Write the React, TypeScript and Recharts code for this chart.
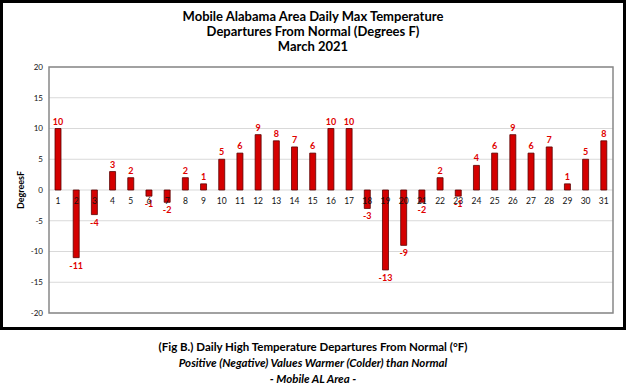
import { BarChart, Bar, XAxis, YAxis, CartesianGrid, ReferenceArea, LabelList } from "recharts";

const days = [
  "1", "2", "3", "4", "5", "6", "7", "8", "9", "10", "11", "12", "13", "14", "15", "16",
  "17", "18", "19", "20", "21", "22", "23", "24", "25", "26", "27", "28", "29", "30", "31",
];
const departures = [
  10, -11, -4, 3, 2, -1, -2, 2, 1, 5, 6, 9, 8, 7, 6, 10,
  10, -3, -13, -9, -2, 2, -1, 4, 6, 9, 6, 7, 1, 5, 8,
];
const yTicks = [-20, -15, -10, -5, 0, 5, 10, 15, 20];

const titleLines = [
  "Mobile Alabama Area Daily Max Temperature",
  "Departures From Normal (Degrees F)",
  "March 2021",
];

const data = days.map((d, i) => ({ day: d, temp: departures[i] }));

const FONT = "Lato, 'Liberation Sans', sans-serif";

const ValueLabel = (props: any) => {
  const x = Number(props.x);
  const y = Number(props.y);
  const w = Number(props.width);
  const h = Number(props.height);
  const v = Number(props.value);
  const top = Math.min(y, y + h);
  const bottom = Math.max(y, y + h);
  const ty = v >= 0 ? top - 4 : bottom + 11;
  return (
    <text x={x + w / 2} y={ty} textAnchor="middle" fill="#e00000" fontSize={9} fontWeight="bold" fontFamily={FONT}>
      {v}
    </text>
  );
};

const DayLabel = (props: any) => {
  const x = Number(props.x);
  const y = Number(props.y);
  const w = Number(props.width);
  const h = Number(props.height);
  const v = departures[props.index];
  const base = v >= 0 ? Math.max(y, y + h) : Math.min(y, y + h);
  return (
    <text x={x + w / 2} y={base + 14} textAnchor="middle" fill="#111" fontSize={8.5} fontFamily={FONT}>
      {props.value}
    </text>
  );
};

export default function App() {
  return (
    <div style={{ position: "relative", width: 626, height: 392, background: "#fff", fontFamily: FONT }}>
      <style>{"body{margin:0}"}</style>
      <div
        style={{
          position: "absolute",
          left: 0,
          top: 0,
          width: 626,
          height: 330,
          border: "3px solid #000",
          boxSizing: "border-box",
        }}
      />
      <div style={{ position: "absolute", left: 0, top: 9, width: 626, textAlign: "center" }}>
        {titleLines.map((t) => (
          <div key={t} style={{ fontSize: 13, fontWeight: "bold", lineHeight: "15px", color: "#000" }}>
            {t}
          </div>
        ))}
      </div>
      <div
        style={{
          position: "absolute",
          left: 20,
          top: 190,
          transform: "translate(-50%, -50%) rotate(-90deg)",
          fontSize: 9,
          fontWeight: "bold",
          whiteSpace: "nowrap",
        }}
      >
        DegreesF
      </div>
      <div style={{ position: "absolute", left: 0, top: 0 }}>
        <BarChart width={626} height={330} data={data} margin={{ top: 67, right: 13, bottom: 17, left: 27 }}>
          <CartesianGrid vertical={false} stroke="#d9d9d9" />
          <XAxis dataKey="day" hide />
          <YAxis
            domain={[-20, 20]}
            ticks={yTicks}
            width={22}
            axisLine={false}
            tickLine={false}
            tickSize={0}
            tickMargin={6}
            tick={{ fontSize: 8, fill: "#111", fontFamily: FONT }}
            interval={0}
          />
          <ReferenceArea y1={-20} y2={20} fill="none" stroke="#888" strokeWidth={1.5} />
          <Bar dataKey="temp" barSize={6} fill="#d40000" stroke="#5a0000" strokeWidth={0.8} isAnimationActive={false}>
            <LabelList dataKey="temp" content={ValueLabel} />
            <LabelList dataKey="day" content={DayLabel} />
          </Bar>
        </BarChart>
      </div>
      <div style={{ position: "absolute", left: 0, top: 339, width: 626, textAlign: "center", fontSize: 11.5, color: "#000" }}>
        <div style={{ fontWeight: "bold", lineHeight: "16px" }}>(Fig B.) Daily High Temperature Departures From Normal (°F)</div>
        <div style={{ fontStyle: "italic", fontWeight: "bold", lineHeight: "16px" }}>Positive (Negative) Values Warmer (Colder) than Normal</div>
        <div style={{ fontStyle: "italic", fontWeight: "bold", lineHeight: "16px" }}>- Mobile AL Area -</div>
      </div>
    </div>
  );
}
